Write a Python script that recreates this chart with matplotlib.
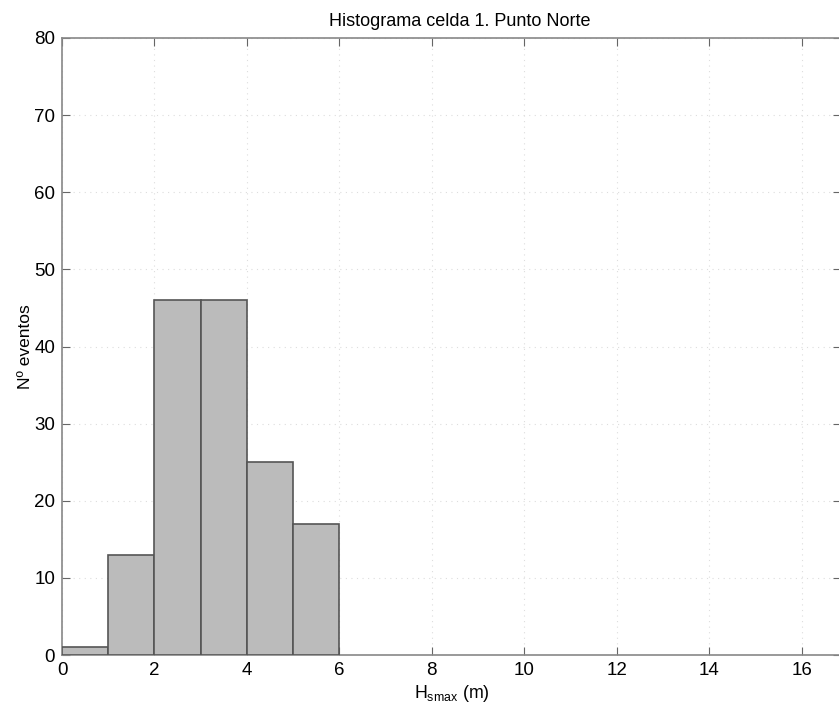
import matplotlib

matplotlib.use("Agg")
import matplotlib.pyplot as plt
import numpy as np

plt.rcParams["font.family"] = ["Liberation Sans", "DejaVu Sans"]

# event counts per 1 m bin of Hs max
bin_edges = [0, 1, 2, 3, 4, 5, 6]
counts = [1, 13, 46, 46, 25, 17]

fig = plt.figure(figsize=(8.39, 7.08), dpi=100)
ax = fig.add_axes([62 / 839, 53 / 708, 779 / 839, 617 / 708])

ax.bar(bin_edges[:-1], counts, width=np.diff(bin_edges), align="edge",
       color="#bbbbbb", edgecolor="#555555", linewidth=1.2, zorder=3)

ax.set_xlim(0, 16.85)
ax.set_ylim(0, 80)
ax.set_xticks(np.arange(0, 17, 2))
ax.set_yticks(np.arange(0, 81, 10))
ax.grid(True, linestyle=(0, (1, 4)), color="#dddddd", linewidth=0.8, zorder=0)
ax.tick_params(direction="in", length=6, color="#666666", labelsize=13.5,
               top=True, right=True, pad=5)
for sp in ax.spines.values():
    sp.set_color("#888888")
    sp.set_linewidth(1.2)

ax.set_title("Histograma celda 1. Punto Norte", fontsize=13, pad=9, x=0.511)
ax.set_xlabel(r"H$_{\mathregular{smax}}$ (m)", fontsize=12.8, labelpad=3)
ax.set_ylabel("Nº eventos", fontsize=12.5, labelpad=1)

fig.savefig("out.png", dpi=100)
